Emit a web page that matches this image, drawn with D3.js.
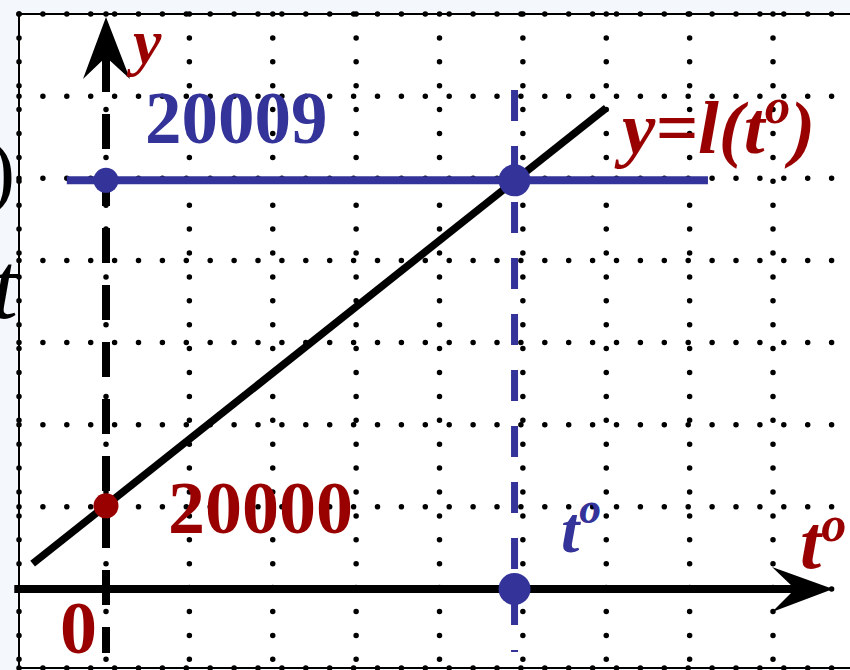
<!DOCTYPE html>
<html><head><meta charset="utf-8">
<script src="https://cdn.jsdelivr.net/npm/d3@7"></script>
<style>
html,body{margin:0;padding:0;background:#f4f7fb;overflow:hidden;}
svg{display:block;}
text{font-family:"Liberation Serif","Times New Roman",serif;}
</style></head><body>
<svg id="chart" width="850" height="670"></svg>
<script>
// ---- values ----
const startValue = 20000;          // l(0)
const targetValue = 20009;         // level reached at t°
const tStar = 4.9;                 // moment t° where l(t°) = 20009
// straight line y = l(t°), given by its two end points
const lineT = [-0.88, 6.0];
const lineY = [19998.4, 20011.0];
// horizontal level y = 20009, span along t
const levelT = [-0.47, 7.22];
// axis extents
const xAxisT = [-1.1, 8.72];
const yAxisY = [19995.93, 20013.52];
// vertical dropline through t°
const dropY = [20011.5, 19995.96];
// labels
const labelStart = "20000";
const labelTarget = "20009";
const labelOrigin = "0";

const RED = "#990000", BLUE = "#333399";
const svg = d3.select("#chart");

const x = d3.scaleLinear().domain([0, 8]).range([106, 773]);
const y = d3.scaleLinear().domain([19997.7, 20013.6]).range([589, 14]);
const gridRow = d3.scaleLinear().domain([0, 7]).range([589, 14]);

const frame = {left: 19, top: 14, right: 857, bottom: 668};

// edge of the page text behind the board
svg.append("text").attr("x", 15).attr("y", 198).attr("text-anchor", "end")
  .attr("font-size", 82).attr("fill", "#000").text(")");
svg.append("text").attr("x", 18).attr("y", 318).attr("text-anchor", "end")
  .attr("font-size", 96).attr("font-style", "italic").attr("fill", "#000").text("t");

// board
svg.append("rect").attr("x", frame.left).attr("y", frame.top)
  .attr("width", frame.right - frame.left).attr("height", frame.bottom - frame.top)
  .attr("fill", "#fff").attr("stroke", "#000").attr("stroke-width", 2);

// dotted grid
const dots = svg.append("g").attr("stroke", "#000").attr("stroke-width", 5.5)
  .attr("stroke-linecap", "round").attr("stroke-dasharray", "0 23.9");
const cols = [frame.left].concat(d3.range(0, 9).map(x));
cols.forEach(cx => dots.append("line").attr("x1", cx).attr("x2", cx)
  .attr("y1", frame.top).attr("y2", frame.bottom));
const rows = d3.range(0, 8).map(gridRow).concat([frame.bottom]);
rows.forEach(ry => dots.append("line").attr("x1", frame.left).attr("x2", frame.right)
  .attr("y1", ry).attr("y2", ry));

// line y = l(t°)
svg.append("line")
  .attr("x1", x(lineT[0])).attr("y1", y(lineY[0]))
  .attr("x2", x(lineT[1])).attr("y2", y(lineY[1]))
  .attr("stroke", "#000").attr("stroke-width", 7.5);

// x axis with arrow
const xTip = x(xAxisT[1]), xAxisY = y.range()[0];
svg.append("line").attr("x1", x(xAxisT[0])).attr("x2", xTip - 38)
  .attr("y1", xAxisY).attr("y2", xAxisY).attr("stroke", "#000").attr("stroke-width", 8);
svg.append("path")
  .attr("d", `M${xTip},${xAxisY} L${xTip - 61},${xAxisY - 22} L${xTip - 38},${xAxisY} L${xTip - 61},${xAxisY + 23} Z`)
  .attr("fill", "#000");

// y axis (dashed) with arrow
const yx = x(0), yTip = y(yAxisY[1]);
svg.append("line").attr("x1", yx).attr("x2", yx)
  .attr("y1", yTip + 40).attr("y2", y(yAxisY[0]))
  .attr("stroke", "#000").attr("stroke-width", 8).attr("stroke-dasharray", "35 22");
svg.append("path")
  .attr("d", `M${yx},${yTip} L${yx - 23},${yTip + 62} L${yx},${yTip + 40} L${yx + 24},${yTip + 62} Z`)
  .attr("fill", "#000");

// level y = 20009
svg.append("line")
  .attr("x1", x(levelT[0])).attr("x2", x(levelT[1]))
  .attr("y1", y(targetValue)).attr("y2", y(targetValue))
  .attr("stroke", BLUE).attr("stroke-width", 8);

// dropline at t°
svg.append("line").attr("x1", x(tStar)).attr("x2", x(tStar))
  .attr("y1", y(dropY[0])).attr("y2", y(dropY[1]))
  .attr("stroke", BLUE).attr("stroke-width", 7).attr("stroke-dasharray", "31 25");

// points
svg.append("circle").attr("cx", x(0)).attr("cy", y(startValue)).attr("r", 12.5).attr("fill", RED);
svg.append("circle").attr("cx", x(0)).attr("cy", y(targetValue)).attr("r", 12.5).attr("fill", BLUE);
svg.append("circle").attr("cx", x(tStar)).attr("cy", y(targetValue)).attr("r", 16).attr("fill", BLUE);
svg.append("circle").attr("cx", x(tStar)).attr("cy", y.range()[0]).attr("r", 16).attr("fill", BLUE);

// labels
function label(tx, ty, size, color, italic, str) {
  return svg.append("text").attr("x", tx).attr("y", ty).attr("font-size", size)
    .attr("font-weight", "bold").attr("font-style", italic ? "italic" : "normal")
    .attr("fill", color).text(str);
}
label(133, 63, 64, RED, true, "y");
label(145, 143, 73, BLUE, false, labelTarget);
label(168, 533, 74, RED, false, labelStart);
label(60, 653, 74, RED, false, labelOrigin);

function tDeg(tx, ty, size, color, rise) {
  const t = label(tx, ty, size, color, true, "t");
  t.append("tspan").attr("font-size", size * 0.66).attr("dy", -rise).text("o");
  return t;
}
tDeg(561, 552, 66, BLUE, 29);
tDeg(800, 568, 76, RED, 27);

const f = label(622, 153, 75, RED, true, "y=l(t");
f.append("tspan").attr("font-size", 75 * 0.68).attr("dy", -30).text("o");
f.append("tspan").attr("dy", 30).text(")");
</script>
</body></html>
